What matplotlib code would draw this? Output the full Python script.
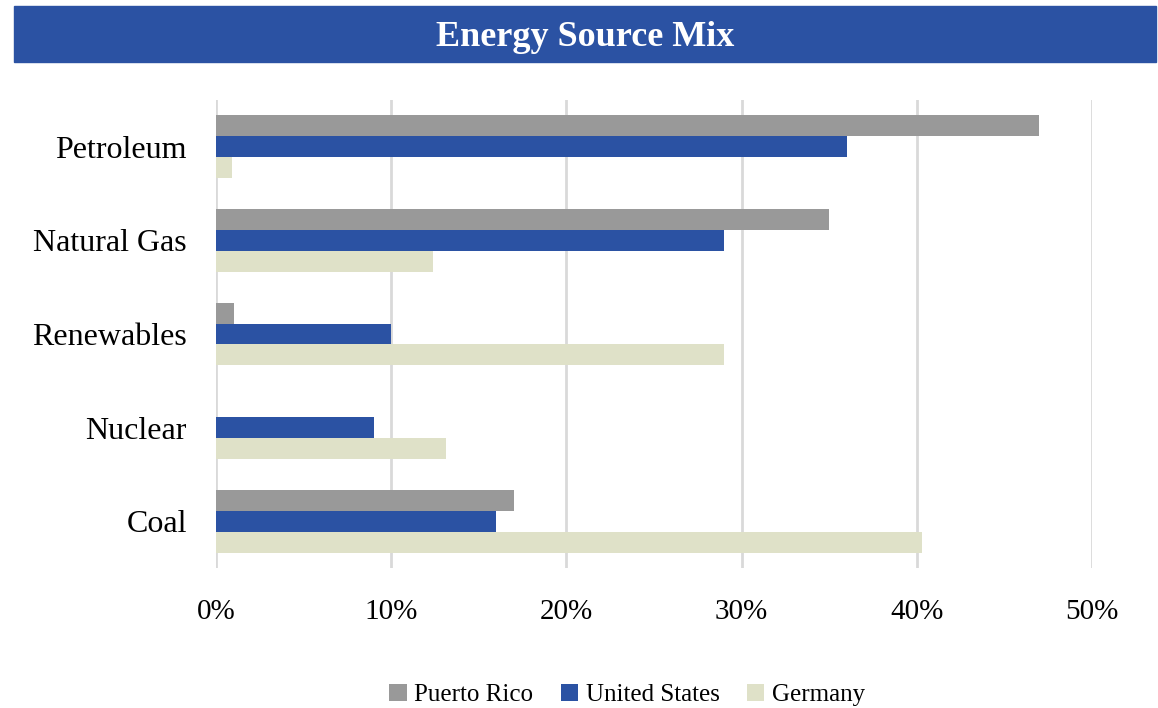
import numpy as np
import matplotlib.pyplot as plt
from matplotlib.patches import Rectangle

categories = ["Petroleum", "Natural Gas", "Renewables", "Nuclear", "Coal"]
puerto_rico = [47, 35, 1, 0, 17]
united_states = [36, 29, 10, 9, 16]
germany = [0.9, 12.4, 29, 13.1, 40.3]
xticks = [0, 10, 20, 30, 40, 50]

series = [("Puerto Rico", puerto_rico, "#999999"),
          ("United States", united_states, "#2B52A3"),
          ("Germany", germany, "#DFE1C8")]

plt.rcParams["font.family"] = ["Liberation Serif", "DejaVu Serif"]

fig = plt.figure(figsize=(11.58, 7.08), dpi=100)
ax = fig.add_axes([216 / 1158, 1 - 568 / 708, 876 / 1158, 468 / 708])

# title banner
fig.patches.append(Rectangle((14 / 1158, 1 - 62 / 708), 1142 / 1158, 56 / 708,
                             transform=fig.transFigure, color="#2B52A3", zorder=0))
fig.text(585 / 1158, 1 - 37 / 708, "Energy Source Mix", color="white",
         fontsize=26, fontweight="bold", ha="center", va="center")

y = np.arange(len(categories))
h = 0.223
for i, (name, vals, color) in enumerate(series):
    ax.barh(y + (i - 1) * h, vals, height=h, color=color, label=name,
            linewidth=0, zorder=2)

ax.set_ylim(len(categories) - 0.5, -0.5)
ax.set_xlim(0, 50)
ax.set_yticks(y)
ax.set_yticklabels(categories, fontsize=23)
ax.set_xticks(xticks)
ax.set_xticklabels([f"{t}%" for t in xticks], fontsize=21)
ax.tick_params(length=0)
ax.tick_params(axis="y", pad=21)
ax.tick_params(axis="x", pad=22)
ax.grid(axis="x", color="#D9D9D9", linewidth=2, zorder=0)
for s in ax.spines.values():
    s.set_visible(False)

ax.legend(loc="center", bbox_to_anchor=(627 / 1158, 1 - 695 / 708),
          bbox_transform=fig.transFigure, ncol=3, frameon=False, fontsize=18,
          handlelength=0.7, handleheight=0.7, handletextpad=0.3, columnspacing=1.1)

fig.savefig("out.png", dpi=100)
